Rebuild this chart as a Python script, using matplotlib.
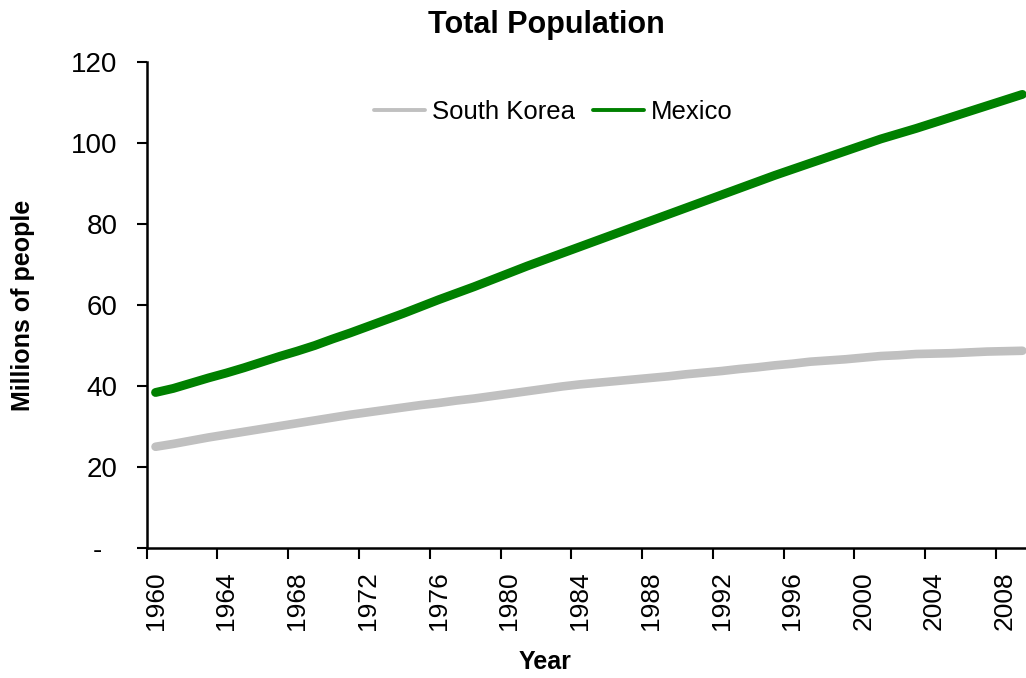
import matplotlib
matplotlib.use("Agg")
import matplotlib.pyplot as plt
from matplotlib.ticker import FixedLocator, NullFormatter, FixedFormatter

plt.rcParams['font.family'] = ['Liberation Sans', 'DejaVu Sans']

# data (millions of people)
years = list(range(1960, 2010))
south_korea = [25.0, 25.7, 26.5, 27.3, 28.0, 28.7, 29.4, 30.1, 30.8, 31.5,
               32.2, 32.9, 33.5, 34.1, 34.7, 35.3, 35.8, 36.4, 36.9, 37.5,
               38.1, 38.7, 39.3, 39.9, 40.4, 40.8, 41.2, 41.6, 42.0, 42.4,
               42.9, 43.3, 43.7, 44.2, 44.6, 45.1, 45.5, 46.0, 46.3, 46.6,
               47.0, 47.4, 47.6, 47.9, 48.0, 48.1, 48.3, 48.5, 48.6, 48.7]
mexico = [38.4, 39.4, 40.7, 42.0, 43.2, 44.5, 45.9, 47.3, 48.6, 50.0,
          51.6, 53.1, 54.7, 56.3, 57.9, 59.6, 61.3, 62.9, 64.5, 66.2,
          67.9, 69.6, 71.2, 72.8, 74.4, 76.0, 77.6, 79.2, 80.8, 82.4,
          84.0, 85.6, 87.2, 88.8, 90.4, 92.0, 93.5, 95.0, 96.5, 98.0,
          99.5, 101.0, 102.3, 103.6, 105.0, 106.4, 107.8, 109.2, 110.6, 112.0]
label_years = years[::4]
y_ticks = [0, 20, 40, 60, 80, 100, 120]
y_labels = ['-  ', '20', '40', '60', '80', '100', '120']

W, H = 1026, 678
fig = plt.figure(figsize=(W / 100, H / 100), dpi=100)
fig.patch.set_facecolor('white')

# plot area runs past the right edge of the picture, as in the original
left, right, top, bottom = 146.7, 1031.2, 62, 548
ax = fig.add_axes([left / W, 1 - bottom / H, (right - left) / W, (bottom - top) / H])

ax.plot(years, south_korea, color='#C0C0C0', lw=6.2, solid_capstyle='round',
        solid_joinstyle='round', label='South Korea')
ax.plot(years, mexico, color='#008000', lw=6.4, solid_capstyle='round',
        solid_joinstyle='round', label='Mexico')

ax.set_xlim(years[0] - 0.5, years[-1] + 0.5)
ax.set_ylim(0, 120)

# tick marks sit between categories, labels at category centres
ax.xaxis.set_major_locator(FixedLocator([y - 0.5 for y in label_years]))
ax.xaxis.set_major_formatter(NullFormatter())
ax.xaxis.set_minor_locator(FixedLocator(label_years))
ax.xaxis.set_minor_formatter(FixedFormatter([str(y) for y in label_years]))
ax.tick_params(axis='x', which='major', direction='out', length=8, width=1.5)
ax.tick_params(axis='x', which='minor', length=0, pad=17, labelsize=19,
               labelrotation=90)

ax.set_yticks(y_ticks)
ax.set_yticklabels(y_labels)
ax.tick_params(axis='y', direction='out', length=7, width=1.5, pad=14, labelsize=20)

for s in ['top', 'right']:
    ax.spines[s].set_visible(False)
for s in ['left', 'bottom']:
    ax.spines[s].set_linewidth(1.8)
    ax.spines[s].set_color('black')

ax.set_xlabel('Year', fontsize=18, fontweight='bold')
ax.xaxis.set_label_coords((545 - left) / (right - left), -(650 - bottom) / (bottom - top))
ax.set_ylabel('Millions of people', fontsize=18, fontweight='bold')
ax.yaxis.set_label_coords(-(left - 11) / (right - left), 0.5)
ax.yaxis.label.set_va('top')

fig.text(546 / W, 1 - 25 / H, 'Total Population', fontsize=22, fontweight='bold',
         ha='center', va='center')

leg = ax.legend(ncol=2, loc='center', bbox_to_anchor=(553 / W, 1 - 112 / H),
                bbox_transform=fig.transFigure, frameon=False, fontsize=18.5,
                handlelength=2.0, handletextpad=0.25, columnspacing=0.7,
                borderpad=0)
for line in leg.get_lines():
    line.set_linewidth(2.8)

fig.savefig('out.png', dpi=100, facecolor='white')
